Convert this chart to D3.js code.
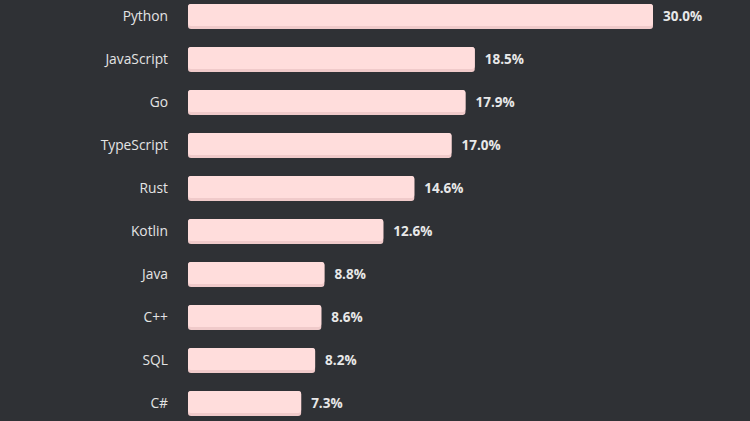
<!DOCTYPE html>
<html><head><meta charset="utf-8">
<script src="https://cdn.jsdelivr.net/npm/d3@7"></script>
<style>
html,body{margin:0;padding:0;background:#2f3135;}
svg{display:block;}
</style></head>
<body>
<svg id="chart" width="750" height="421"></svg>
<script>
const categories = ["Python","JavaScript","Go","TypeScript","Rust","Kotlin","Java","C++","SQL","C#"];
const values = [30.0,18.5,17.9,17.0,14.6,12.6,8.8,8.6,8.2,7.3];

const W = 750, H = 421;
const svg = d3.select("#chart");
svg.append("rect").attr("width", W).attr("height", H).attr("fill", "#2f3135");

const x = d3.scaleLinear().domain([0, 30]).range([188, 653]);
const pi = 18/43;
const y = d3.scaleBand().domain(categories).range([-5, 425]).paddingInner(pi).paddingOuter(pi/2);

const data = categories.map((c,i)=>({c, v: values[i]}));

const g = svg.append("g");
const bars = g.selectAll("g.bar").data(data).join("g").attr("class","bar");
bars.append("rect")
  .attr("x", x(0)).attr("y", d=>y(d.c))
  .attr("width", d=>x(d.v)-x(0)).attr("height", y.bandwidth())
  .attr("rx", 3).attr("fill", "#f0caca");
bars.append("rect")
  .attr("x", x(0)).attr("y", d=>y(d.c))
  .attr("width", d=>x(d.v)-x(0)).attr("height", y.bandwidth()-3)
  .attr("rx", 3).attr("fill", "#ffdddc");

const yAxis = d3.axisLeft(y).tickSize(0).tickPadding(0);
const ax = svg.append("g").attr("transform", "translate(168,0)").call(yAxis);
ax.select(".domain").remove();
ax.selectAll("text").attr("fill","#e4e4e4").attr("font-family","'Open Sans', sans-serif").attr("font-size","13.8px");

bars.append("text")
  .attr("x", d=>x(d.v)+10).attr("y", d=>y(d.c)+y.bandwidth()/2)
  .attr("dy","0.35em")
  .attr("fill","#e8e8e8").attr("font-family","'Open Sans', sans-serif")
  .attr("font-weight","bold").attr("font-size","13.5px")
  .text(d=>d.v.toFixed(1)+"%");
</script>
</body></html>
